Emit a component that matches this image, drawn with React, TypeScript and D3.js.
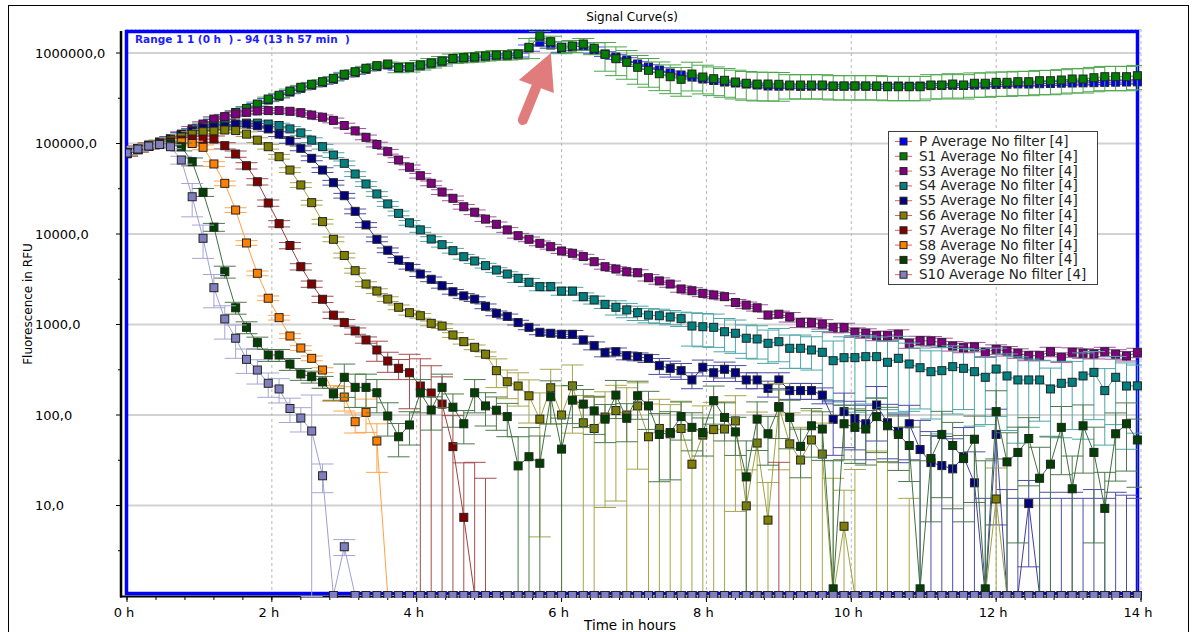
import React from "react";
import * as d3 from "d3";

// ---------- DATA ----------
const timeMinutes = [
  0, 9, 18, 27, 36, 45, 54, 63, 72, 81,
  90, 99, 108, 117, 126, 135, 144, 153, 162, 171,
  180, 189, 198, 207, 216, 225, 234, 243, 252, 261,
  270, 279, 288, 297, 306, 315, 324, 333, 342, 351,
  360, 369, 378, 387, 396, 405, 414, 423, 432, 441,
  450, 459, 468, 477, 486, 495, 504, 513, 522, 531,
  540, 549, 558, 567, 576, 585, 594, 603, 612, 621,
  630, 639, 648, 657, 666, 675, 684, 693, 702, 711,
  720, 729, 738, 747, 756, 765, 774, 783, 792, 801,
  810, 819, 828, 837,
];

const pValues = [
  77000, 85000, 93000, 100000, 106000, 115000, 133000, 155000, 177000, 191000,
  214000, 238000, 266000, 302000, 332000, 370000, 407000, 440000, 470000, 512000,
  567000, 605000, 661000, 706000, 737000, 680000, 690000, 718000, 757000, 796000,
  847000, 865000, 880000, 904000, 926000, 930000, 950000, 1136000, 1323000, 1225000,
  1107000, 1165000, 1195000, 1079000, 975000, 903000, 837000, 756000, 700000, 649000,
  601000, 571000, 543000, 516000, 497000, 478000, 466000, 454000, 443000, 432000,
  430000, 432000, 428000, 430000, 432000, 428000, 430000, 432000, 430000, 428000,
  430000, 432000, 430000, 432000, 436000, 438000, 440000, 438000, 442000, 444000,
  450000, 452000, 455000, 454000, 458000, 460000, 464000, 466000, 468000, 470000,
  474000, 476000, 478000, 480000,
];
const s1Values = [
  78500, 88000, 96300, 104000, 109000, 118000, 137000, 160000, 182000, 196000,
  220000, 244000, 273000, 310000, 341000, 380000, 418000, 451000, 482000, 525000,
  582000, 621000, 678000, 724000, 756000, 688000, 700000, 737000, 776000, 816000,
  869000, 887000, 903000, 927000, 950000, 950000, 975000, 1156000, 1541000, 1333000,
  1156000, 1195000, 1257000, 1127000, 968000, 865000, 789000, 695000, 644000, 590000,
  547000, 512000, 586000, 543000, 520000, 499000, 478000, 463000, 454000, 454000,
  451000, 443000, 443000, 443000, 443000, 432000, 432000, 432000, 432000, 432000,
  424000, 424000, 424000, 424000, 443000, 443000, 454000, 443000, 463000, 463000,
  474000, 474000, 482000, 482000, 494000, 494000, 503000, 516000, 516000, 533000,
  547000, 547000, 547000, 561000,
];
const s3Values = [
  78500, 87000, 94000, 101000, 112000, 127000, 145000, 164000, 186000, 198000,
  212000, 221000, 229000, 231000, 231000, 227000, 219000, 206000, 195000, 180000,
  158000, 138000, 117000, 97500, 81200, 65700, 54600, 44100, 36300, 29100,
  24800, 20000, 17400, 14600, 12800, 11100, 9580, 8740, 7890, 7240,
  6490, 6120, 5630, 4940, 4350, 4100, 3830, 3730, 3290, 3030,
  2800, 2470, 2360, 2210, 2120, 2030, 1750, 1640, 1530, 1270,
  1300, 1210, 1050, 1050, 1010, 922, 922, 820, 800, 752,
  752, 780, 620, 662, 657, 630, 578, 554, 566, 493,
  532, 509, 481, 452, 452, 500, 434, 493, 481, 473,
  500, 470, 449, 488,
];
const s4Values = [
  78500, 87000, 94000, 101000, 112000, 124000, 137000, 148000, 156000, 160000,
  164000, 168000, 168000, 164000, 158000, 145000, 131000, 109000, 92200, 74600,
  60400, 46000, 35700, 27700, 21500, 16900, 13300, 11100, 8800, 7620,
  6540, 5610, 5030, 4470, 4000, 3610, 3240, 2930, 2620, 2620,
  2340, 2340, 2030, 1870, 1670, 1550, 1450, 1350, 1270, 1250,
  1210, 1160, 962, 945, 931, 832, 800, 705, 692, 620,
  646, 546, 546, 523, 493, 398, 430, 430, 441, 441,
  382, 423, 366, 333, 301, 309, 342, 328, 301, 261,
  322, 270, 244, 244, 244, 194, 224, 230, 270, 296,
  186, 261, 209, 210,
];
const s5Values = [
  78500, 87000, 94000, 101000, 112000, 124000, 137000, 148000, 152000, 153000,
  163000, 164000, 157000, 145000, 127000, 107000, 88500, 68600, 50900, 36900,
  26500, 17800, 12600, 8740, 6610, 5160, 4350, 3610, 3160, 2680,
  2300, 2070, 1910, 1590, 1330, 1230, 1050, 931, 820, 800,
  780, 780, 675, 583, 488, 500, 452, 441, 423, 351,
  328, 309, 244, 337, 293, 320, 293, 244, 244, 197,
  244, 186, 186, 186, 166, 89.6, 109, 91.5, 80, 129,
  82, 66, 80, 41.5, 29.8, 27.6, 25.4, 34.6, 17.8, 0,
  61, 0, 0, 10.5, 0, 0, 0, 0, 0, 0,
  0, 0, 0, 0,
];
const s6Values = [
  78500, 87000, 94000, 101000, 109000, 118000, 127000, 135000, 137000, 141000,
  139000, 127000, 109000, 92200, 71500, 50900, 34800, 22200, 13700, 8740,
  5790, 3930, 2800, 2340, 1910, 1550, 1350, 1250, 1030, 962,
  766, 646, 560, 469, 309, 233, 209, 163, 90, 200,
  100, 210, 82, 71, 95, 112, 100, 126, 57.5, 71,
  62, 71, 28.6, 60, 69, 70, 86, 9.9, 49, 6.9,
  124, 48, 31.8, 53, 37, 0, 5.9, 0, 0, 0,
  0, 0, 0, 0, 0, 0, 0, 0, 0, 0,
  11.8, 0, 0, 0, 0, 0, 0, 0, 0, 0,
  0, 0, 0, 0,
];
const s7Values = [
  78500, 87000, 94000, 99000, 104000, 109000, 112000, 112000, 112000, 94600,
  76500, 56800, 37800, 22000, 13000, 7460, 4350, 2800, 1900, 1270,
  1050, 848, 675, 523, 395, 328, 293, 209, 175, 132,
  44.7, 7.4, 0, 0, 0, 0, 0, 0, 0, 0,
  0, 0, 0, 0, 0, 0, 0, 0, 0, 0,
  0, 0, 0, 0, 0, 0, 0, 0, 0, 0,
  0, 0, 0, 0, 0, 0, 0, 0, 0, 0,
  0, 0, 0, 0, 0, 0, 0, 0, 0, 0,
  0, 0, 0, 0, 0, 0, 0, 0, 0, 0,
  0, 0, 0, 0,
];
const s8Values = [
  78500, 87000, 94000, 99000, 101000, 104000, 100000, 90800, 59400, 36300,
  18400, 7960, 3680, 1950, 1190, 746, 550, 423, 314, 176,
  158, 84.3, 107, 51.6, 0, 0, 0, 0, 0, 0,
  0, 0, 0, 0, 0, 0, 0, 0, 0, 0,
  0, 0, 0, 0, 0, 0, 0, 0, 0, 0,
  0, 0, 0, 0, 0, 0, 0, 0, 0, 0,
  0, 0, 0, 0, 0, 0, 0, 0, 0, 0,
  0, 0, 0, 0, 0, 0, 0, 0, 0, 0,
  0, 0, 0, 0, 0, 0, 0, 0, 0, 0,
  0, 0, 0, 0,
];
const s9Values = [
  78500, 87000, 94000, 99000, 99000, 92000, 62900, 28900, 11900, 3830,
  1530, 931, 630, 460, 460, 366, 284, 265, 232, 171,
  261, 202, 202, 176, 97.5, 57.5, 77.6, 176, 113.5, 202,
  122, 80, 176, 126, 113, 96, 27.4, 34.6, 29.3, 159,
  42, 146, 132, 111, 90, 166, 92, 163, 126, 61,
  64, 96, 73, 64, 144, 94, 65, 20.7, 90, 62,
  122, 94, 45, 76, 70, 1.2, 80, 73, 70, 96,
  76, 61, 46, 1.2, 33, 61, 46, 33, 54, 1.2,
  109, 30.3, 38.6, 55, 20, 28.6, 73, 15.3, 76, 38.6,
  9.3, 62, 80, 53,
];
const s10Values = [
  78500, 86900, 93800, 97500, 92200, 65700, 25800, 8960, 2550, 1150,
  705, 412, 314, 224, 194, 118, 92.7, 66.5, 21.3, 0,
  3.5, 0, 0, 0, 0, 0, 0, 0, 0, 0,
  0, 0, 0, 0, 0, 0, 0, 0, 0, 0,
  0, 0, 0, 0, 0, 0, 0, 0, 0, 0,
  0, 0, 0, 0, 0, 0, 0, 0, 0, 0,
  0, 0, 0, 0, 0, 0, 0, 0, 0, 0,
  0, 0, 0, 0, 0, 0, 0, 0, 0, 0,
  0, 0, 0, 0, 0, 0, 0, 0, 0, 0,
  0, 0, 0, 0,
];

// error bars: standard deviation in percent of the mean
const pCv = [
  4, 4, 4, 4, 4, 4, 4, 4, 4, 4, 4, 4, 4, 4, 4, 4, 4, 4, 4, 4,
  4, 4, 4, 4, 5, 5, 5, 5, 5, 5, 5, 5, 5, 5, 5, 5, 5, 8, 10, 8,
  8, 8, 8, 8, 6, 6, 6, 6, 6, 6, 5, 5, 5, 5, 5, 5, 5, 5, 5, 5,
  5, 5, 5, 5, 5, 5, 5, 5, 5, 5, 5, 5, 5, 5, 5, 5, 5, 5, 5, 5,
  5, 5, 5, 5, 5, 5, 5, 5, 5, 5, 5, 5, 5, 5,
];
const s1Cv = [
  5, 5, 5, 5, 5, 5, 5, 5, 5, 5, 5, 5, 5, 5, 5, 5, 5, 5, 5, 5,
  5, 5, 5, 5, 5, 12, 12, 12, 12, 12, 12, 12, 12, 12, 12, 12, 12, 25, 12, 15,
  15, 15, 15, 15, 35, 35, 35, 35, 35, 35, 35, 35, 35, 35, 35, 35, 35, 35, 35, 35,
  35, 30, 30, 30, 30, 30, 30, 30, 30, 30, 30, 30, 30, 30, 30, 30, 30, 30, 30, 30,
  30, 30, 30, 30, 30, 30, 30, 30, 30, 30, 30, 30, 30, 30,
];
const s3Cv = [
  6, 6, 6, 6, 6, 6, 6, 6, 6, 6, 6, 6, 6, 6, 6, 6, 6, 6, 6, 6,
  6, 6, 6, 6, 6, 6, 6, 6, 6, 6, 6, 6, 6, 6, 6, 6, 6, 6, 6, 6,
  6, 6, 6, 6, 6, 6, 8, 8, 8, 8, 8, 8, 8, 8, 8, 8, 8, 8, 8, 8,
  8, 12, 12, 12, 12, 12, 12, 12, 12, 12, 12, 12, 12, 12, 12, 12, 12, 12, 12, 12,
  12, 12, 12, 12, 12, 12, 12, 12, 12, 12, 12, 12, 12, 12,
];
const s4Cv = [
  6, 6, 6, 6, 6, 6, 6, 6, 6, 6, 6, 6, 6, 6, 6, 6, 6, 6, 6, 6,
  6, 6, 6, 6, 6, 6, 6, 6, 6, 6, 6, 6, 6, 6, 6, 6, 10, 10, 10, 10,
  10, 10, 10, 10, 10, 18, 18, 18, 18, 18, 18, 18, 40, 40, 40, 40, 40, 40, 40, 40,
  40, 40, 40, 40, 70, 65, 70, 75, 70, 65, 70, 75, 70, 65, 70, 80, 70, 65, 75, 70,
  70, 75, 80, 70, 65, 70, 75, 70, 80, 70, 75, 70, 80, 70,
];
const s5Cv = [
  6, 6, 6, 6, 6, 6, 6, 6, 6, 6, 6, 6, 6, 6, 6, 6, 6, 6, 6, 6,
  6, 6, 6, 6, 6, 6, 6, 6, 6, 6, 6, 6, 6, 6, 6, 6, 6, 6, 6, 6,
  6, 10, 10, 10, 10, 10, 10, 10, 10, 20, 20, 20, 20, 20, 20, 20, 20, 20, 20, 20,
  20, 20, 20, 20, 20, 60, 60, 55, 60, 60, 60, 55, 60, 110, 120, 110, 115, 110, 120, 0,
  90, 0, 0, 80, 0, 0, 0, 0, 0, 0, 0, 0, 0, 0,
];
const s6Cv = [
  6, 6, 6, 6, 6, 6, 6, 6, 6, 6, 6, 6, 6, 6, 6, 6, 6, 6, 6, 6,
  6, 6, 6, 6, 6, 6, 6, 6, 6, 6, 6, 6, 6, 6, 35, 35, 40, 50, 95, 60,
  110, 70, 100, 120, 90, 90, 100, 80, 130, 110, 110, 100, 140, 110, 100, 100, 90, 150, 120, 160,
  80, 120, 130, 110, 120, 0, 150, 0, 0, 0, 0, 0, 0, 0, 0, 0, 0, 0, 0, 0,
  120, 0, 0, 0, 0, 0, 0, 0, 0, 0, 0, 0, 0, 0,
];
const s7Cv = [
  8, 8, 8, 8, 8, 8, 8, 8, 8, 8, 8, 8, 8, 8, 8, 8, 8, 8, 8, 8,
  8, 8, 8, 25, 25, 25, 60, 100, 100, 100, 120, 300, 0, 0, 0, 0, 0, 0, 0, 0,
  0, 0, 0, 0, 0, 0, 0, 0, 0, 0, 0, 0, 0, 0, 0, 0, 0, 0, 0, 0,
  0, 0, 0, 0, 0, 0, 0, 0, 0, 0, 0, 0, 0, 0, 0, 0, 0, 0, 0, 0,
  0, 0, 0, 0, 0, 0, 0, 0, 0, 0, 0, 0, 0, 0,
];
const s8Cv = [
  6, 6, 6, 6, 6, 6, 6, 6, 6, 6, 6, 6, 6, 6, 6, 6, 6, 6, 6, 20,
  30, 25, 40, 55, 0, 0, 0, 0, 0, 0, 0, 0, 0, 0, 0, 0, 0, 0, 0, 0,
  0, 0, 0, 0, 0, 0, 0, 0, 0, 0, 0, 0, 0, 0, 0, 0, 0, 0, 0, 0,
  0, 0, 0, 0, 0, 0, 0, 0, 0, 0, 0, 0, 0, 0, 0, 0, 0, 0, 0, 0,
  0, 0, 0, 0, 0, 0, 0, 0, 0, 0, 0, 0, 0, 0,
];
const s9Cv = [
  5, 5, 5, 5, 5, 10, 10, 10, 10, 15, 15, 15, 15, 15, 15, 15, 15, 15, 15, 15,
  40, 40, 40, 40, 40, 40, 40, 40, 40, 40, 40, 40, 40, 40, 40, 40, 110, 110, 100, 50,
  120, 45, 45, 45, 45, 45, 45, 45, 45, 70, 70, 45, 45, 45, 45, 45, 45, 150, 55, 55,
  55, 55, 55, 55, 55, 2500, 60, 60, 60, 60, 60, 60, 60, 2500, 80, 80, 80, 80, 80, 2500,
  70, 110, 90, 70, 120, 100, 70, 130, 70, 90, 150, 70, 70, 70,
];
const s10Cv = [
  5, 5, 5, 5, 5, 10, 40, 40, 40, 40, 40, 30, 30, 30, 30, 30, 30, 150, 35, 0,
  20, 0, 0, 0, 0, 0, 0, 0, 0, 0, 0, 0, 0, 0, 0, 0, 0, 0, 0, 0,
  0, 0, 0, 0, 0, 0, 0, 0, 0, 0, 0, 0, 0, 0, 0, 0, 0, 0, 0, 0,
  0, 0, 0, 0, 0, 0, 0, 0, 0, 0, 0, 0, 0, 0, 0, 0, 0, 0, 0, 0,
  0, 0, 0, 0, 0, 0, 0, 0, 0, 0, 0, 0, 0, 0,
];
// upper error (RFU) drawn on points whose mean is 0: [point index, sd]
const s5ZeroSd = [[79, 12], [81, 15], [82, 12], [84, 12], [85, 14], [86, 12], [87, 14], [88, 12], [89, 15], [90, 12], [91, 14], [92, 13], [93, 12]];
const s6ZeroSd = [[65, 20], [67, 25], [69, 40], [70, 30], [72, 12]];
const s7ZeroSd = [[32, 30], [33, 20], [60, 30]];

const seriesNames = [
  "P Average No filter [4]", "S1 Average No filter [4]", "S3 Average No filter [4]",
  "S4 Average No filter [4]", "S5 Average No filter [4]", "S6 Average No filter [4]",
  "S7 Average No filter [4]", "S8 Average No filter [4]", "S9 Average No filter [4]",
  "S10 Average No filter [4]",
];
const seriesColors = ["#0000ff", "#008000", "#800080", "#008080", "#000080", "#808000", "#800000", "#ff8000", "#004000", "#8080c0"];

const xTickHours = [0, 2, 4, 6, 8, 10, 12, 14];
const yTickValues = [10, 100, 1000, 10000, 100000, 1000000];
const yTickLabels = ["10,0", "100,0", "1000,0", "10000,0", "100000,0", "1000000,0"];

const FONT = "'DejaVu Sans', Verdana, sans-serif";

export default function App() {
  const W = 1194, H = 632;
  const x = d3.scaleLinear().domain([0, 14]).range([127, 1141]);
  const y = d3.scaleLog().domain([1, 1e6]).range([596, 53]);
  const Y_ZERO = 595.5;
  const yv = (v: number) => (v <= 1 ? Y_ZERO : y(v));
  const hours = timeMinutes.map((m) => m / 60);

  const series = seriesNames.map((name, k) => ({
    name,
    color: seriesColors[k],
    values: [pValues, s1Values, s3Values, s4Values, s5Values, s6Values, s7Values, s8Values, s9Values, s10Values][k],
    cv: [pCv, s1Cv, s3Cv, s4Cv, s5Cv, s6Cv, s7Cv, s8Cv, s9Cv, s10Cv][k],
    zeroSd: ([[], [], [], [], s5ZeroSd, s6ZeroSd, s7ZeroSd, [], [], []] as number[][][])[k],
  }));

  const line = d3.line<number>().x((_, i) => x(hours[i])).y((v) => yv(v));

  const plotL = 126.5, plotR = 1137.5, plotT = 31.5, plotB = 593.5;
  const minorX = d3.range(0, 14.001, 0.4);
  const minorY = [0.5, 1.5, 2.5, 3.5, 4.5, 5.5].map((e) => Math.pow(10, e));

  // arrow anchored on S1 maximum
  const peakIdx = s1Values.indexOf(d3.max(s1Values) as number);
  const ax = x(hours[peakIdx]);
  const ay = yv(s1Values[peakIdx]);

  const legendX = 888.5, legendY = 131.5;

  return (
    <svg width={W} height={H} style={{ position: "absolute", left: 0, top: 0, display: "block", background: "#fff" }} fontFamily={FONT}>
      <defs>
        <clipPath id="plotClip">
          <rect x={126} y={27} width={1016} height={571} />
        </clipPath>
      </defs>
      <rect x={0} y={0} width={W} height={H} fill="#fff" />
      <rect x={8.5} y={5.5} width={1180} height={660} fill="none" stroke="#000" strokeWidth={1} />

      <text x={632} y={21} fontSize={12} textAnchor="middle" fill="#000">Signal Curve(s)</text>

      {/* grid */}
      {yTickValues.map((v) => (
        <line key={"hg" + v} x1={plotL} x2={1141} y1={y(v)} y2={y(v)} stroke="#d2d2d2" strokeWidth={2} />
      ))}
      {xTickHours.slice(1).map((h) => (
        <line key={"vg" + h} x1={x(h)} x2={x(h)} y1={29} y2={plotB} stroke="#b8b8b8" strokeWidth={1} strokeDasharray="3,3" />
      ))}
      <line x1={plotL} x2={1141} y1={29.5} y2={29.5} stroke="#b8b8b8" strokeWidth={1} strokeDasharray="2,2" />

      {/* blue frame */}
      <rect x={plotL} y={plotT} width={plotR - plotL} height={plotB - plotT} fill="none" stroke="#0000ff" strokeWidth={3.5} />

      {/* axes */}
      <line x1={121} x2={121} y1={31} y2={597.5} stroke="#000" strokeWidth={2.5} />
      <line x1={120} x2={1142} y1={596.5} y2={596.5} stroke="#000" strokeWidth={2} />
      {yTickValues.map((v, i) => (
        <g key={"yt" + v}>
          <line x1={116} x2={121} y1={y(v)} y2={y(v)} stroke="#000" strokeWidth={1} />
          <text x={35} y={y(v) + 4.5} fontSize={13} fill="#000">{yTickLabels[i]}</text>
        </g>
      ))}
      {minorY.map((v) => (
        <line key={"ym" + v} x1={118} x2={121} y1={y(v)} y2={y(v)} stroke="#000" strokeWidth={1} />
      ))}
      {minorX.map((h) => (
        <line key={"xm" + h} x1={x(h)} x2={x(h)} y1={597} y2={600} stroke="#000" strokeWidth={1} />
      ))}
      {xTickHours.map((h) => (
        <g key={"xt" + h}>
          <line x1={x(h)} x2={x(h)} y1={597} y2={602} stroke="#000" strokeWidth={1} />
          <text x={x(h) - 3} y={617} fontSize={13} textAnchor="middle" fill="#000">{h + " h"}</text>
        </g>
      ))}
      <text x={630} y={630} fontSize={13.5} textAnchor="middle" fill="#000">Time in hours</text>
      <text transform="translate(32,304) rotate(-90)" fontSize={12} textAnchor="middle" fill="#000">Fluorescence in RFU</text>

      {/* data */}
      <g clipPath="url(#plotClip)">
        {series.map((s) => {
          const errColor = d3.interpolateRgb(s.color, "#ffffff")(0.3);
          const lineColor = d3.interpolateRgb(s.color, "#ffffff")(0.25);
          return (
            <g key={s.name}>
              {s.values.map((v, i) => {
                const sd = (v * s.cv[i]) / 100;
                if (!(sd > 0)) return null;
                const cx = x(hours[i]);
                const yHi = yv(v + sd);
                const yLo = v - sd > 1 ? yv(v - sd) : Y_ZERO + 1;
                return (
                  <g key={"e" + i} stroke={errColor} strokeWidth={1}>
                    <line x1={cx} x2={cx} y1={yHi} y2={yLo} />
                    <line x1={cx - 11} x2={cx + 11} y1={yHi} y2={yHi} />
                    <line x1={cx - 11} x2={cx + 11} y1={yLo} y2={yLo} />
                  </g>
                );
              })}
              {s.zeroSd.map(([i, sd]) => {
                const cx = x(hours[i]);
                const yHi = yv(sd);
                return (
                  <g key={"z" + i} stroke={errColor} strokeWidth={1}>
                    <line x1={cx} x2={cx} y1={yHi} y2={Y_ZERO} />
                    <line x1={cx - 11} x2={cx + 11} y1={yHi} y2={yHi} />
                  </g>
                );
              })}
              <path d={line(s.values) || ""} fill="none" stroke={lineColor} strokeWidth={1} />
              {s.values.map((v, i) => (
                <rect key={"m" + i} x={x(hours[i]) - 4} y={yv(v) - 4} width={8} height={8} fill={s.color} stroke="#222" strokeWidth={1} />
              ))}
            </g>
          );
        })}
      </g>

      {/* annotation arrow */}
      <g fill="#e07c7c" stroke="none">
        <line x1={ax - 17} y1={ay + 84} x2={ax - 4} y2={ay + 52} stroke="#e07c7c" strokeWidth={10} strokeLinecap="round" />
        <polygon points={`${ax + 11},${ay + 17} ${ax - 21},${ay + 44} ${ax + 14},${ay + 57}`} />
      </g>

      <text x={135} y={43} fontSize={10.5} fontWeight="bold" fill="#2020ff" style={{ whiteSpace: "pre" }}>
        {"Range 1 1 (0 h  ) - 94 (13 h 57 min  )"}
      </text>

      {/* legend */}
      <rect x={legendX} y={legendY} width={209} height={153} fill="#fff" stroke="#404040" strokeWidth={1} />
      {series.map((s, k) => {
        const cy = 141.5 + k * 14.8;
        return (
          <g key={"lg" + k}>
            <line x1={895} x2={912} y1={cy} y2={cy} stroke="#f05a5a" strokeWidth={1} />
            <rect x={900} y={cy - 3.5} width={7} height={7} fill={s.color} stroke="#222" strokeWidth={1} />
            <text x={919} y={cy + 4.5} fontSize={13.5} fill="#222">{s.name}</text>
          </g>
        );
      })}
    </svg>
  );
}
